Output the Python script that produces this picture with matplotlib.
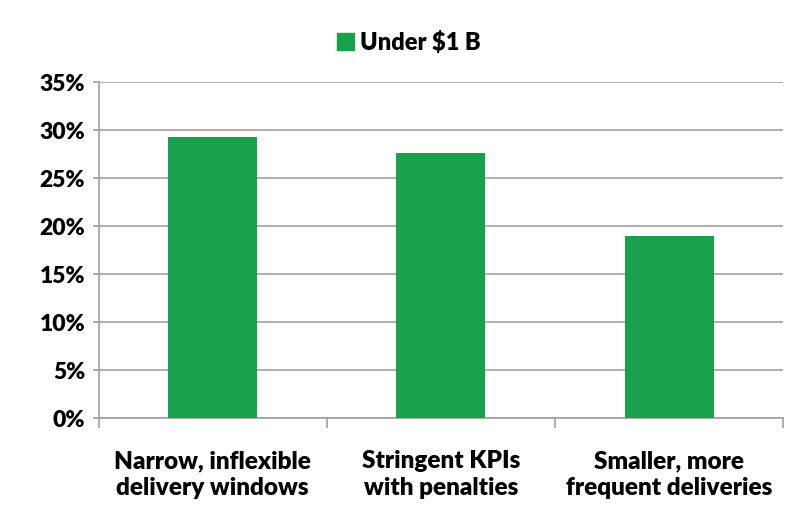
import matplotlib
matplotlib.use("Agg")
import matplotlib.pyplot as plt
from matplotlib.ticker import MultipleLocator, FuncFormatter
from matplotlib.patches import Patch

categories = ["Narrow, inflexible\ndelivery windows", "Stringent KPIs\nwith penalties", "Smaller, more\nfrequent deliveries"]
values = [29.3, 27.6, 19.0]
series_name = "Under $1 B"
green = "#18A04A"

plt.rcParams['font.family'] = ['Lato', 'DejaVu Sans']
plt.rcParams['font.weight'] = 'heavy'

fig = plt.figure(figsize=(7.88, 5.13), dpi=100)
ax = fig.add_axes([0.125, 0.185, 0.869, 0.655])

x = list(range(len(categories)))
ax.bar(x, values, width=0.39, color=green, zorder=3)
ax.set_xlim(-0.5, len(categories) - 0.5)
ax.set_ylim(0, 35)
ax.yaxis.set_major_locator(MultipleLocator(5))
ax.yaxis.set_major_formatter(FuncFormatter(lambda v, p: f"{v:.0f}%"))
ax.grid(axis='y', color='#a0a0a0', linewidth=1.2, zorder=0)

ax.set_xticks([i + 0.5 for i in range(-1, len(categories))])
ax.set_xticklabels([])
ax.set_xticks(x, minor=True)
ax.set_xticklabels(categories, minor=True, fontsize=17.5, fontweight='heavy', linespacing=1.25)
ax.tick_params(axis='x', which='minor', length=0, pad=23)
ax.tick_params(axis='x', which='major', length=7, color='#a0a0a0', width=1.2)
ax.tick_params(axis='y', length=4.5, color='#a0a0a0', width=1.2, labelsize=16.5, pad=5)
for t in ax.get_yticklabels():
    t.set_fontweight('heavy')

for s in ['top', 'right']:
    ax.spines[s].set_visible(False)
for s in ['left', 'bottom']:
    ax.spines[s].set_color('#a0a0a0')
    ax.spines[s].set_linewidth(1.2)

fig.legend(handles=[Patch(color=green, label=series_name)], loc='center',
           bbox_to_anchor=(0.519, 0.918), frameon=False, handlelength=0.7,
           handleheight=0.7, handletextpad=0.25, prop={'size': 17, 'weight': 'heavy'})

fig.savefig("out.png", dpi=100)
